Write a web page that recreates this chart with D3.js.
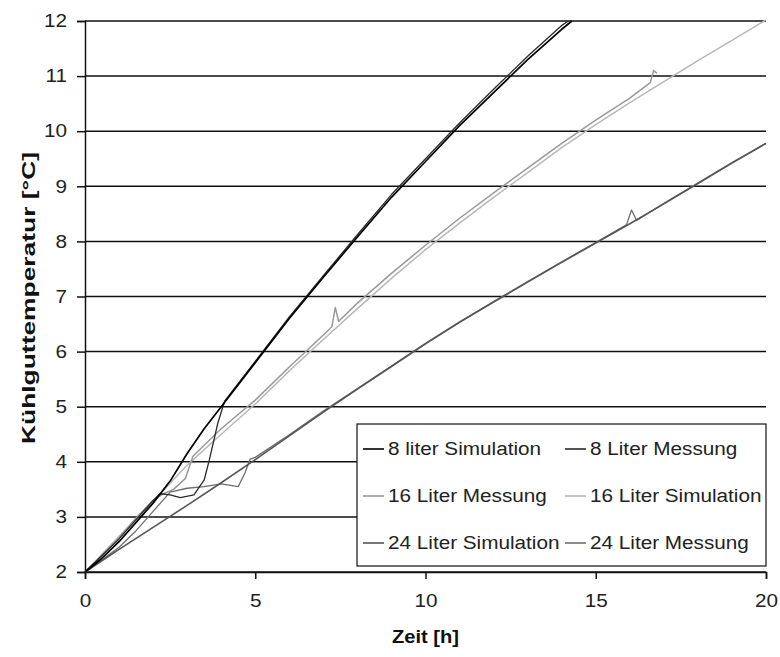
<!DOCTYPE html>
<html>
<head>
<meta charset="utf-8">
<script src="https://cdn.jsdelivr.net/npm/d3@7"></script>
<style>
  body { margin: 0; background: #fff; }
  svg { font-family: "Liberation Sans", Arial, sans-serif; }
</style>
</head>
<body>
<div id="chart"></div>
<script>
// time [h] and temperature [°C] per series
var sim8T = [0, 0.5, 1, 1.5, 2, 2.5, 3, 3.5, 4, 5, 6, 7, 8, 9, 10, 11, 12, 13, 14, 14.3];
var sim8V = [2, 2.25, 2.55, 2.9, 3.25, 3.65, 4.15, 4.6, 5.0, 5.8, 6.6, 7.35, 8.08, 8.8, 9.45, 10.1, 10.7, 11.3, 11.85, 12.0];

var mes8T = [0, 0.5, 1, 1.5, 2, 2.2, 2.5, 2.8, 3.2, 3.5, 3.65, 3.9, 4.1, 5, 6, 7, 8, 9, 10, 11, 12, 13, 14, 14.2];
var mes8V = [2, 2.3, 2.6, 2.95, 3.3, 3.42, 3.4, 3.35, 3.4, 3.67, 4.03, 4.7, 5.1, 5.82, 6.63, 7.38, 8.12, 8.85, 9.5, 10.15, 10.76, 11.36, 11.92, 12.0];

var mes16T = [0, 0.5, 1, 1.5, 2, 2.3, 2.6, 2.95, 3.17, 3.5, 4, 5, 6, 7, 7.25, 7.35, 7.45, 8, 9, 10, 11, 12, 13, 14, 15, 16, 16.6, 16.7, 16.8];
var mes16V = [2, 2.3, 2.62, 2.98, 3.3, 3.42, 3.5, 3.7, 4.1, 4.3, 4.6, 5.12, 5.72, 6.3, 6.45, 6.8, 6.55, 6.88, 7.42, 7.93, 8.42, 8.88, 9.33, 9.78, 10.2, 10.6, 10.88, 11.1, 11.05];

var sim16T = [0, 1, 2, 3, 4, 5, 6, 7, 8, 9, 10, 11, 12, 13, 14, 15, 16, 17, 18, 19, 20];
var sim16V = [2, 2.65, 3.28, 3.94, 4.5, 5.05, 5.65, 6.22, 6.78, 7.33, 7.85, 8.33, 8.8, 9.25, 9.7, 10.12, 10.52, 10.9, 11.28, 11.65, 12.02];

var sim24T = [0, 1, 2, 3, 4, 5, 6, 7, 8, 9, 10, 11, 12, 13, 14, 15, 16, 17, 18, 19, 20];
var sim24V = [2, 2.41, 2.81, 3.21, 3.62, 4.04, 4.47, 4.9, 5.32, 5.73, 6.14, 6.53, 6.9, 7.26, 7.62, 7.97, 8.32, 8.68, 9.05, 9.42, 9.78];

var mes24T = [0, 0.5, 1, 1.5, 2, 2.5, 3, 3.5, 4, 4.5, 4.7, 4.85, 5, 6, 7, 8, 9, 10, 11, 12, 13, 14, 15, 15.9, 16.05, 16.2, 17, 18, 19, 20];
var mes24V = [2, 2.22, 2.45, 2.75, 3.1, 3.45, 3.52, 3.55, 3.6, 3.55, 3.8, 4.05, 4.08, 4.49, 4.92, 5.33, 5.74, 6.15, 6.54, 6.91, 7.27, 7.63, 7.98, 8.3, 8.57, 8.38, 8.69, 9.06, 9.43, 9.78];

var xTicks = [0, 5, 10, 15, 20];
var yTicks = [2, 3, 4, 5, 6, 7, 8, 9, 10, 11, 12];

var series = [
  { name: "8 liter Simulation", t: sim8T, v: sim8V, color: "#000", w: 1.7 },
  { name: "8 Liter Messung", t: mes8T, v: mes8V, color: "#2a2a2a", w: 1.3 },
  { name: "16 Liter Messung", t: mes16T, v: mes16V, color: "#999", w: 1.5 },
  { name: "16 Liter Simulation", t: sim16T, v: sim16V, color: "#b8b8b8", w: 1.5 },
  { name: "24 Liter Simulation", t: sim24T, v: sim24V, color: "#555", w: 1.6 },
  { name: "24 Liter Messung", t: mes24T, v: mes24V, color: "#6e6e6e", w: 1.3 }
];

var width = 780, height = 657;
var margin = { top: 21, right: 14, bottom: 85, left: 85 };

// widen glyphs like the scanned original
function stretch(sel, f) {
  sel.each(function() {
    var w = this.getComputedTextLength();
    d3.select(this).attr("textLength", w * f).attr("lengthAdjust", "spacingAndGlyphs");
  });
}

var svg = d3.select("#chart").append("svg")
  .attr("width", width)
  .attr("height", height);

var x = d3.scaleLinear().domain([0, 20]).range([margin.left, width - margin.right]);
var y = d3.scaleLinear().domain([2, 12]).range([height - margin.bottom, margin.top]);

// gridlines
svg.append("g")
  .selectAll("line")
  .data(yTicks)
  .enter().append("line")
  .attr("x1", x(0)).attr("x2", x(20))
  .attr("y1", function(d) { return y(d); })
  .attr("y2", function(d) { return y(d); })
  .attr("stroke", "#111")
  .attr("stroke-width", 1.5);

// axes
var yAxis = svg.append("g")
  .attr("transform", "translate(" + x(0) + ",0)")
  .call(d3.axisLeft(y).tickValues(yTicks).tickSize(8).tickPadding(10).tickFormat(d3.format("d")));
var xAxis = svg.append("g")
  .attr("transform", "translate(0," + y(2) + ")")
  .call(d3.axisBottom(x).tickValues(xTicks).tickSize(7).tickPadding(15).tickFormat(d3.format("d")));

[xAxis, yAxis].forEach(function(a) {
  a.select(".domain").attr("stroke", "#111").attr("stroke-width", 1.5);
  a.selectAll(".tick line").attr("stroke", "#111").attr("stroke-width", 1.5);
  a.selectAll("text").attr("fill", "#222").style("font-size", "18px");
  stretch(a.selectAll("text"), 1.15);
});

// data lines
var line = d3.line()
  .x(function(d) { return x(d[0]); })
  .y(function(d) { return y(d[1]); });

svg.append("g")
  .selectAll("path")
  .data(series.slice().reverse())
  .enter().append("path")
  .attr("d", function(s) { return line(d3.zip(s.t, s.v)); })
  .attr("fill", "none")
  .attr("stroke", function(s) { return s.color; })
  .attr("stroke-width", function(s) { return s.w; })
  .attr("stroke-linejoin", "round");

// axis titles
var xTitle = svg.append("text")
  .attr("x", (x(0) + x(20)) / 2)
  .attr("y", 643)
  .attr("text-anchor", "middle")
  .attr("fill", "#111")
  .style("font-size", "18px")
  .style("font-weight", "bold")
  .text("Zeit [h]");
stretch(xTitle, 1.12);

var yTitle = svg.append("text")
  .attr("transform", "translate(35,298) rotate(-90)")
  .attr("text-anchor", "middle")
  .attr("fill", "#111")
  .style("font-size", "19px")
  .style("font-weight", "bold")
  .text("Kühlguttemperatur [°C]");
yTitle.attr("textLength", 292).attr("lengthAdjust", "spacingAndGlyphs");

// legend
var legend = svg.append("g");
var lgLeft = 357, lgTop = 424, lgRight = x(20), lgBottom = 566;
legend.append("rect")
  .attr("x", lgLeft).attr("y", lgTop)
  .attr("width", lgRight - lgLeft).attr("height", lgBottom - lgTop)
  .attr("fill", "#fff")
  .attr("stroke", "#111")
  .attr("stroke-width", 1.2);

var colX = [363, 565];
var rowY = [449, 496, 543];
var items = legend.selectAll("g.item")
  .data(series)
  .enter().append("g")
  .attr("class", "item")
  .attr("transform", function(d, i) {
    return "translate(" + colX[i % 2] + "," + rowY[Math.floor(i / 2)] + ")";
  });
items.append("line")
  .attr("x1", 0).attr("x2", 21)
  .attr("stroke", function(d) { return d.color; })
  .attr("stroke-width", 1.6);
var lgText = items.append("text")
  .attr("x", 25)
  .attr("dy", "0.36em")
  .attr("fill", "#222")
  .style("font-size", "18px")
  .text(function(d) { return d.name; });
stretch(lgText, 1.15);
</script>
</body>
</html>
